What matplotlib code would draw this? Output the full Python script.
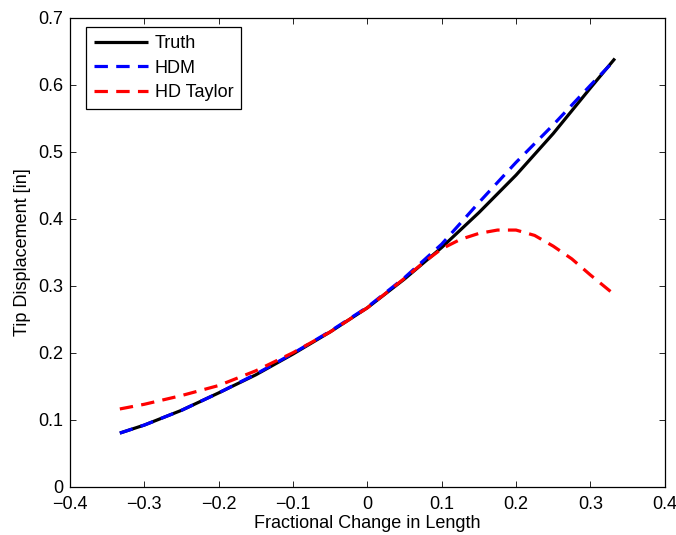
import matplotlib
matplotlib.use("Agg")
import matplotlib.pyplot as plt

plt.rcParams['font.family'] = ['Liberation Sans', 'DejaVu Sans']

# Data
x_truth = [-0.333, -0.3, -0.25, -0.2, -0.15, -0.1, -0.05, 0.0, 0.05, 0.1, 0.15, 0.2, 0.25, 0.3, 0.333]
truth = [0.080, 0.092, 0.114, 0.140, 0.167, 0.198, 0.231, 0.267, 0.310, 0.357, 0.409, 0.465, 0.527, 0.595, 0.639]

x_hdm = [-0.333, -0.3, -0.25, -0.2, -0.15, -0.1, -0.05, 0.0, 0.05, 0.1, 0.15, 0.2, 0.25, 0.3, 0.333]
hdm = [0.080, 0.092, 0.114, 0.140, 0.168, 0.199, 0.232, 0.268, 0.312, 0.362, 0.424, 0.484, 0.540, 0.599, 0.637]

x_taylor = [-0.333, -0.3, -0.25, -0.2, -0.15, -0.1, -0.05, 0.0, 0.05, 0.075, 0.1, 0.125, 0.15,
            0.175, 0.2, 0.225, 0.25, 0.275, 0.3, 0.333]
taylor = [0.116, 0.123, 0.136, 0.151, 0.173, 0.200, 0.231, 0.267, 0.311, 0.334, 0.355, 0.369, 0.378,
          0.383, 0.383, 0.375, 0.359, 0.340, 0.316, 0.286]

xticks = [-0.4, -0.3, -0.2, -0.1, 0, 0.1, 0.2, 0.3, 0.4]
xticklabels = ['\u22120.4', '\u22120.3', '\u22120.2', '\u22120.1', '0', '0.1', '0.2', '0.3', '0.4']
yticks = [0, 0.1, 0.2, 0.3, 0.4, 0.5, 0.6, 0.7]
yticklabels = ['0', '0.1', '0.2', '0.3', '0.4', '0.5', '0.6', '0.7']

fig = plt.figure(figsize=(6.76, 5.35), dpi=100)
ax = fig.add_axes([0.1036, 0.0903, 0.8797, 0.8767])

lw = 2.3
ax.plot(x_truth, truth, color='black', lw=lw, label='Truth', solid_capstyle='butt')
ax.plot(x_hdm, hdm, color='blue', lw=lw, ls=(0, (4.2, 2.6)), label='HDM', dash_capstyle='butt')
ax.plot(x_taylor, taylor, color='red', lw=lw, ls=(0, (4.2, 2.6)), label='HD Taylor', dash_capstyle='butt')

ax.set_xlim(-0.4, 0.4)
ax.set_ylim(0, 0.7)
ax.set_xticks(xticks)
ax.set_xticklabels(xticklabels)
ax.set_yticks(yticks)
ax.set_yticklabels(yticklabels)
ax.tick_params(direction='in', length=4, width=0.6, top=True, right=True, labelsize=13)
ax.tick_params(axis='x', pad=7)
ax.tick_params(axis='y', pad=5)
for s in ax.spines.values():
    s.set_linewidth(0.9)

ax.set_xlabel('Fractional Change in Length', fontsize=13, labelpad=1)
ax.set_ylabel('Tip Displacement [in]', fontsize=13, labelpad=5)

leg = ax.legend(loc='upper left', bbox_to_anchor=(0.027, 0.980), borderaxespad=0,
                fontsize=13, fancybox=False, framealpha=1, edgecolor='black',
                handlelength=3.0, handletextpad=0.35, labelspacing=0.42, borderpad=0.45)
leg.get_frame().set_linewidth(0.9)

fig.savefig('out.png', dpi=100)
